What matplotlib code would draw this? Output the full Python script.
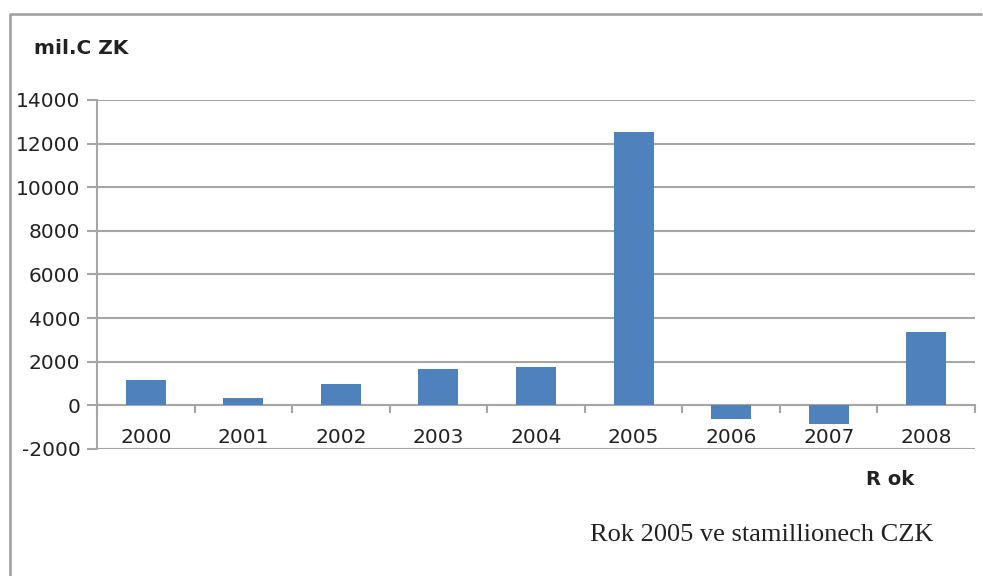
import matplotlib
matplotlib.use("Agg")
import matplotlib.pyplot as plt
from matplotlib.lines import Line2D

# roky a hodnoty v mil. CZK
roky = ["2000", "2001", "2002", "2003", "2004", "2005", "2006", "2007", "2008"]
hodnoty = [1150, 320, 960, 1650, 1740, 12530, -640, -860, 3350]
y_ticks = [-2000, 0, 2000, 4000, 6000, 8000, 10000, 12000, 14000]

seda = "#a6a6a6"
modra = "#4f81bd"
text_barva = "#222222"

fig = plt.figure(figsize=(9.83, 5.76), dpi=100)
ax = fig.add_axes([0.0987, 0.2205, 0.8932, 0.6059])

x = list(range(len(roky)))
ax.bar(x, hodnoty, width=0.41, color=modra, zorder=3)

ax.set_ylim(-2000, 14000)
ax.set_xlim(-0.5, len(roky) - 0.5)
ax.set_yticks(y_ticks)
ax.set_yticklabels([str(v) for v in y_ticks])
ax.yaxis.grid(True, color=seda, linewidth=1.5, zorder=0)
ax.tick_params(axis="y", length=7, width=1.5, color=seda, pad=5,
               labelsize=14.5, labelcolor=text_barva)

# kategorie: carky mezi roky, popisky uprostred
ax.set_xticks([i + 0.5 for i in x[:-1]] + [-0.5, len(roky) - 0.5])
ax.set_xticklabels([])
ax.set_xticks(x, minor=True)
ax.set_xticklabels(roky, minor=True)
ax.tick_params(axis="x", which="major", length=6, width=1.5, color=seda)
ax.tick_params(axis="x", which="minor", length=0, pad=16,
               labelsize=14.5, labelcolor=text_barva)

ax.spines["bottom"].set_position(("data", 0))
ax.spines["bottom"].set_color(seda)
ax.spines["bottom"].set_linewidth(1.5)
ax.spines["left"].set_color(seda)
ax.spines["left"].set_linewidth(1.5)
ax.spines["top"].set_visible(False)
ax.spines["right"].set_visible(False)

# ramecek grafu (jen levy a horni okraj), jedna lomena cara
fig.add_artist(Line2D([0.0097, 0.0097, 0.999], [-0.02, 0.975, 0.975],
                      color=seda, linewidth=2, solid_capstyle="butt"))

fig.text(0.035, 0.915, "mil.C ZK", fontsize=14.5, fontweight="bold",
         family="DejaVu Sans", va="center", ha="left", color=text_barva)
fig.text(0.881, 0.167, "R ok", fontsize=14, fontweight="bold",
         family="DejaVu Sans", va="center", ha="left", color=text_barva)
fig.text(0.600, 0.071, "Rok 2005 ve stamillionech CZK", fontsize=19,
         family="Liberation Serif", va="center", ha="left", color=text_barva)

fig.savefig("out.png", dpi=100)
